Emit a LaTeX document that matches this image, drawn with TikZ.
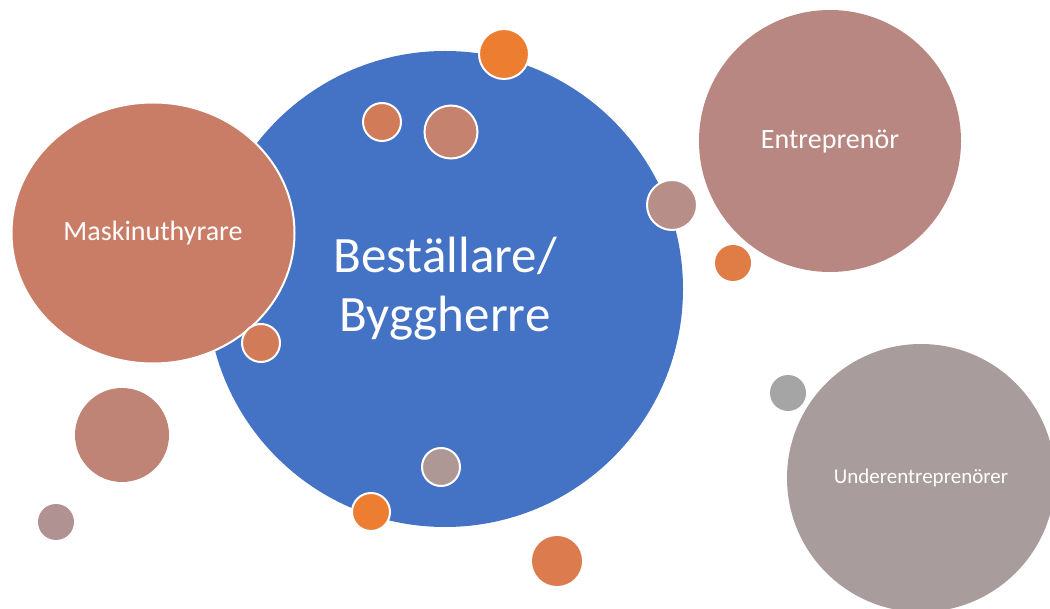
\documentclass[tikz,border=0pt]{standalone}
\usepackage{fontspec}
\setmainfont{Carlito}
\usetikzlibrary{shapes.geometric}
\definecolor{blau}{HTML}{4472C4}
\definecolor{maskin}{HTML}{C97D66}
\definecolor{entre}{HTML}{B98781}
\definecolor{under}{HTML}{A89D9C}
\definecolor{orange1}{HTML}{ED7D31}
\definecolor{orange2}{HTML}{E07C45}
\definecolor{orange3}{HTML}{DC7B4E}
\definecolor{rost1}{HTML}{D27B58}
\definecolor{rost2}{HTML}{C4826F}
\definecolor{rost3}{HTML}{BF8476}
\definecolor{rosa1}{HTML}{B88E89}
\definecolor{rosa2}{HTML}{AD9896}
\definecolor{rosa3}{HTML}{B09292}
\definecolor{gra}{HTML}{A5A5A5}

\begin{document}
\begin{tikzpicture}[x=1pt, y=-1pt]
        \tikzstyle{every node}=[circle, inner sep=0pt, text=white]
        \tikzstyle{ring}=[draw=white, line width=2pt]
        \useasboundingbox (0,0) rectangle (1050,609);
        \clip (0,0) rectangle (1050,609);
        % main bubbles
        \node (bestallare) [fill=blau, minimum size=476pt, align=center, font=\fontsize{51}{59}\selectfont] at (445,289) {Beställare/\\Byggherre};
        \node (maskin) [ellipse, ring, fill=maskin, minimum width=283pt, minimum height=261pt, font=\fontsize{28}{34}\selectfont] at (153,233) {Maskinuthyrare};
        \node (entre) [fill=entre, minimum size=262pt, font=\fontsize{28}{34}\selectfont] at (830,141) {Entreprenör};
        \node (under) [fill=under, minimum size=268pt, font=\fontsize{21}{25}\selectfont] at (921,478) {Underentreprenörer};
        % small bubbles
        \node (p1) [ring, fill=orange1, minimum size=50pt] at (504,54) {};
        \node (p2) [ring, fill=rost1, minimum size=38pt] at (382,122) {};
        \node (p3) [ring, fill=rost2, minimum size=53pt] at (451,132) {};
        \node (p4) [ring, fill=rosa1, minimum size=50pt] at (672,205) {};
        \node (p5) [fill=orange2, minimum size=36pt] at (733,263) {};
        \node (p6) [ring, fill=rost1, minimum size=38pt] at (261,343) {};
        \node (p7) [fill=rost3, minimum size=94pt] at (122,435) {};
        \node (p8) [fill=rosa3, minimum size=36pt] at (56,522) {};
        \node (p9) [fill=gra, minimum size=36pt] at (788,393) {};
        \node (p10) [ring, fill=rosa2, minimum size=38pt] at (441,467) {};
        \node (p11) [ring, fill=orange1, minimum size=38pt] at (371,512) {};
        \node (p12) [fill=orange3, minimum size=50pt] at (557,561) {};
\end{tikzpicture}
\end{document}
